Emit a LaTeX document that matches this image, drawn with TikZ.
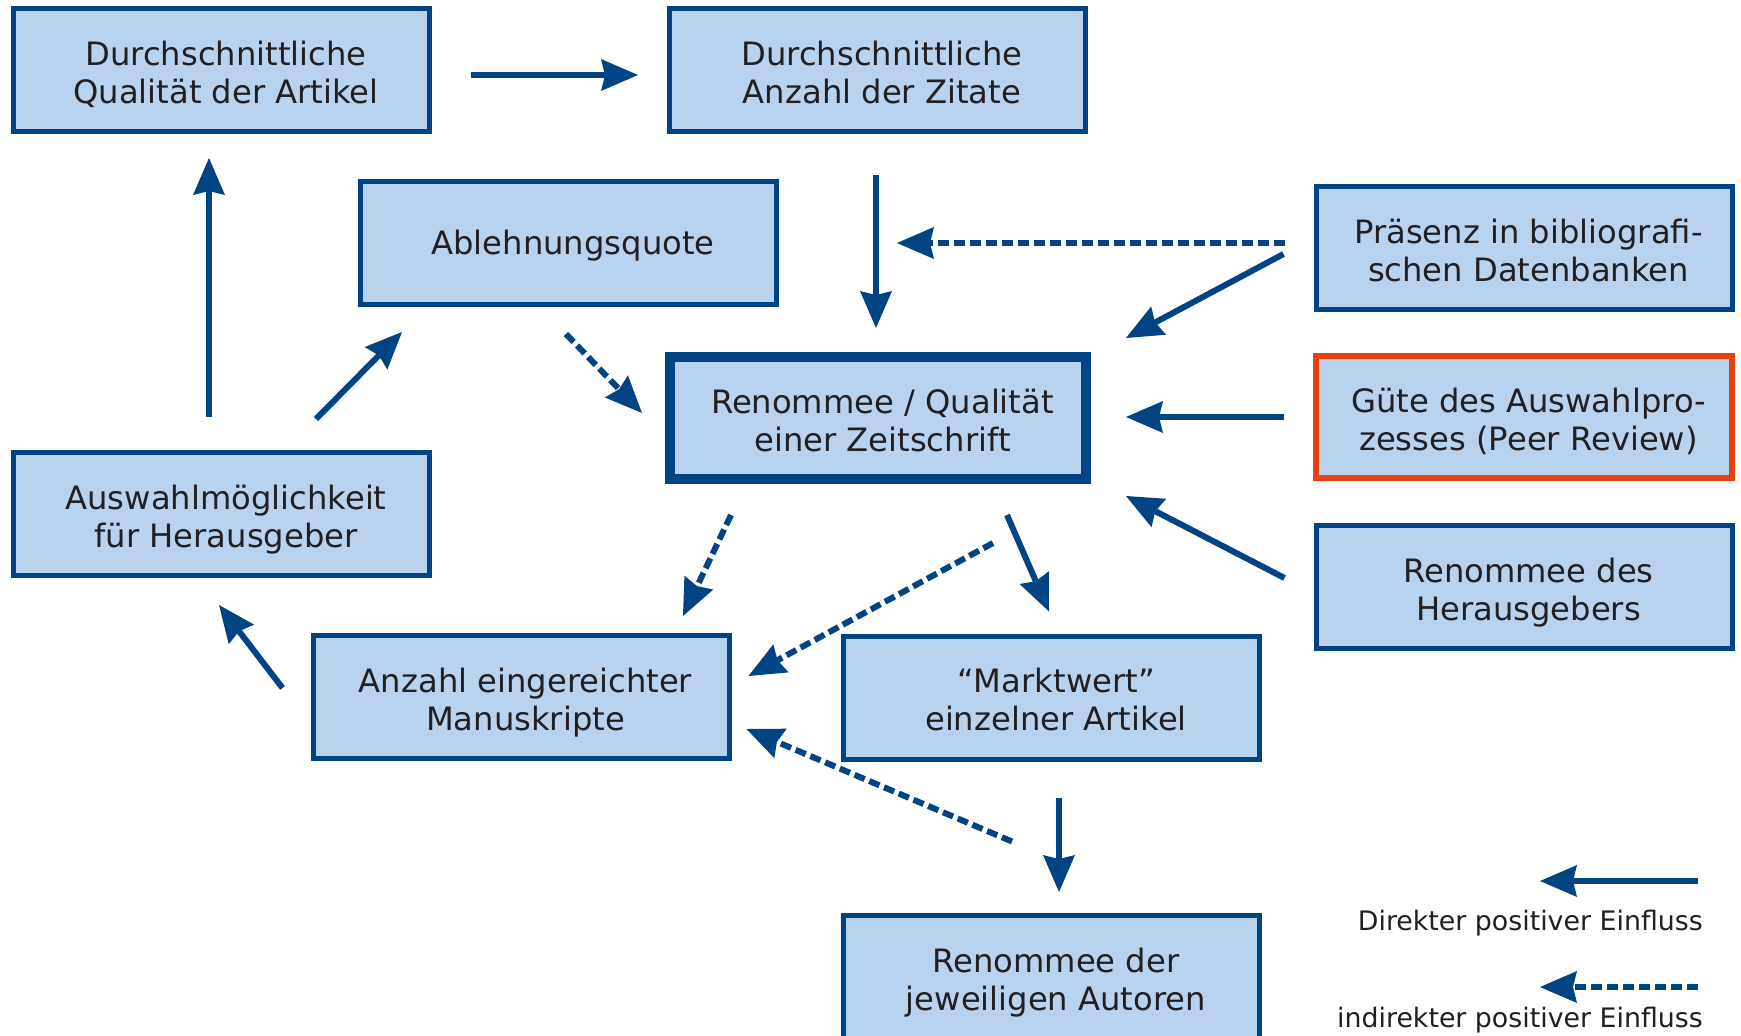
\documentclass[tikz,border=0pt]{standalone}
\usepackage{fontspec}
\setmainfont{DejaVu Sans}
\usetikzlibrary{arrows.meta,calc}
\definecolor{dblue}{RGB}{0,68,131}
\definecolor{lblue}{RGB}{185,211,239}
\definecolor{redb}{RGB}{232,65,13}
\definecolor{txt}{RGB}{35,31,32}
\newcommand{\tstr}{\hspace*{9pt}\rule{0pt}{36pt}}
\newcommand{\bstr}{\rule[-8pt]{0pt}{8pt}}
\newcommand{\sstr}{\hspace*{9pt}\rule[-8pt]{0pt}{38pt}}
\newcommand{\ind}{\hspace*{9pt}}
\begin{document}
\begin{tikzpicture}[x=1pt,y=-1pt,
  box/.style={draw=dblue, fill=lblue, line width=5pt, minimum width=416pt, minimum height=123pt,
    inner sep=0pt, align=center, text=txt, font=\fontsize{32.2}{38}\selectfont},
  legend/.style={inner sep=0pt, text=txt, font=\fontsize{26.8}{30}\selectfont},
  dir/.style={draw=dblue, line width=6pt, -{Stealth[length=37pt,width=32pt,inset=4pt,line width=0pt]}},
  ind/.style={dir, dash pattern=on 11pt off 5pt},
]
\useasboundingbox (0,0) rectangle (1741,1036);
\fill[white] (0,0) rectangle (1741,1036);

\node[box] (QA) at (221.5,70) {\tstr Durchschnittliche\\\ind Qualität der Artikel\bstr};
\node[box] (AZ) at (877.5,70) {\tstr Durchschnittliche\\\ind Anzahl der Zitate\bstr};
\node[box] (AQ) at (568.5,243) {\sstr Ablehnungsquote};
\node[box, line width=10pt, minimum width=416pt, minimum height=122pt] (RQ) at (878,418) {\tstr Renommee / Qualität\\\ind einer Zeitschrift\bstr};
\node[box] (PR) at (1524,248) {\tstr Präsenz in bibliografi-\\\ind schen Datenbanken\bstr};
\node[box, draw=redb, line width=6pt, minimum height=122pt] (GA) at (1524,417) {\tstr Güte des Auswahlpro-\\\ind zesses (Peer Review)\bstr};
\node[box] (RH) at (1524,587) {\tstr Renommee des\\\ind Herausgebers\bstr};
\node[box] (AM) at (221.5,514) {\tstr Auswahlmöglichkeit\\\ind für Herausgeber\bstr};
\node[box] (AE) at (521,697) {\tstr Anzahl eingereichter\\\ind Manuskripte\bstr};
\node[box] (MW) at (1051.5,697.5) {\tstr “Marktwert”\\\ind einzelner Artikel\bstr};
\node[box] (RA) at (1051.5,977) {\tstr Renommee der\\\ind jeweiligen Autoren\bstr};

\node[legend, anchor=base east] (L1) at (1703,930) {Direkter positiver Einfluss};
\node[legend, anchor=base east] (L2) at (1703,1027) {indirekter positiver Einfluss};

% connectors
\draw[dir] ($(QA.east)+(39,5)$) -- ($(AZ.west)+(-29,5)$);
\draw[dir] ($(AZ.south)+(-1.5,41)$) -- ($(RQ.north)+(-2,-24)$);
\coordinate (cTip) at ($(RQ.north)+(19,-109)$);
\draw[ind] ($(PR.west)+(-29,-5)$) -- (cTip);
\draw[dir] ($(PR.west)+(-30,6)$) -- ($(RQ.north east)+(35,-14)$);
\draw[dir] ($(GA.west)+(-29,0)$) -- ($(RQ.east)+(35,-1)$);
\draw[dir] ($(RH.west)+(-29,-9)$) -- ($(RQ.south east)+(35,12)$);
\draw[ind] ($(AQ.south)+(-2.5,27)$) -- ($(RQ.west)+(-23,-5)$);
\draw[dir] ($(AM.north)+(94.5,-31)$) -- ($(AQ.south west)+(44,25)$);
\draw[dir] ($(AM.north)+(-12.5,-33)$) -- ($(QA.south)+(-12.5,24)$);
\draw[ind] ($(RQ.south)+(-147,31)$) -- ($(AE.north)+(162,-17)$);
\draw[dir] ($(RQ.south)+(129,31)$) -- ($(MW.north)+(-2.5,-22)$);
\draw[ind] ($(RQ.south)+(115,59)$) -- ($(AE.east)+(17,-21)$);
\draw[ind] ($(MW.south)+(-39.5,80)$) -- ($(AE.east)+(15,32)$);
\draw[dir] ($(MW.south)+(7.5,36)$) -- ($(RA.north)+(7.5,-21)$);
\draw[dir] ($(AE.west)+(-28,-9)$) -- ($(AM.south)+(-2.5,27)$);

% legend arrows
\draw[dir] ($(L1.base east)+(-5,-49)$) -- ($(L1.base east)+(-163,-49)$);
\draw[ind] ($(L2.base east)+(-5,-40)$) -- ($(L2.base east)+(-163,-40)$);
\end{tikzpicture}
\end{document}
